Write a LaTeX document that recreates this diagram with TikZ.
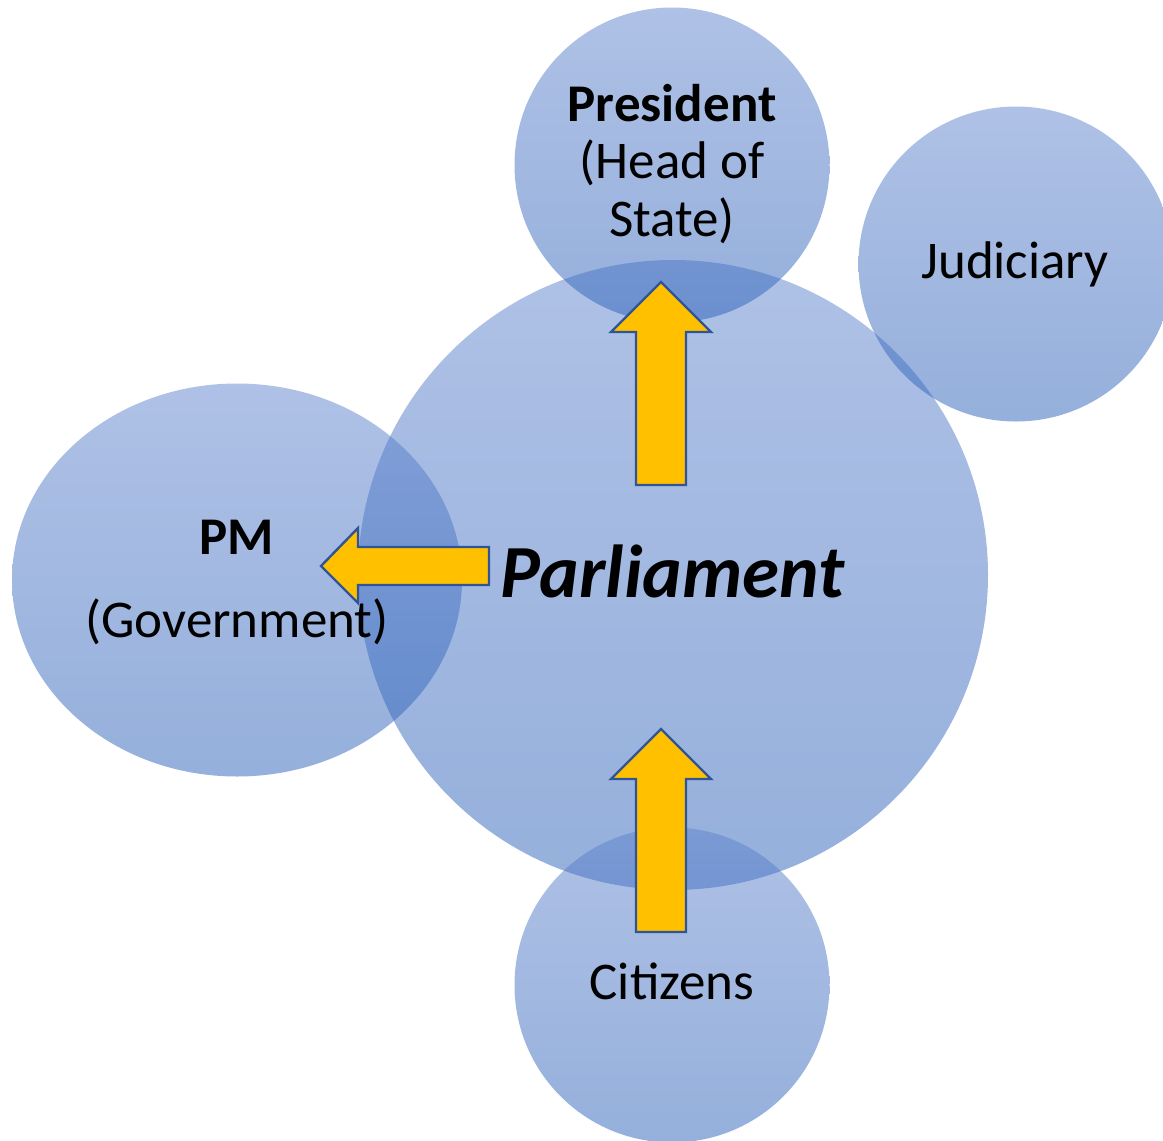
\documentclass[tikz,border=0pt]{standalone}
\usepackage{fontspec}
\setmainfont{Carlito}
\usetikzlibrary{shapes.geometric}
\definecolor{bubtop}{HTML}{5F83CD}
\definecolor{bubbot}{HTML}{2B61B9}
\definecolor{arrowfill}{HTML}{FFC000}
\definecolor{arrowline}{HTML}{2F5597}
\begin{document}
\begin{tikzpicture}[x=1pt, y=-1pt,
    bubble/.style={circle, top color=bubtop, bottom color=bubbot,
      fill opacity=0.5, draw=none, inner sep=0pt},
    blockarrow/.style={fill=arrowfill, draw=arrowline, line width=2.4pt},
    lbl/.style={font=\fontsize{53}{57.5}\selectfont, align=center, inner sep=0pt}]
  \useasboundingbox (0,0) rectangle (1163,1141);
  % the bubbles
  \node[bubble, minimum size=630pt] (parl) at (673,575) {};
  \node[bubble, minimum size=315pt] (pres) at (672,165) {};
  \node[bubble, minimum size=315pt] (jud) at (1016,264) {};
  \node[bubble, ellipse, minimum width=450pt, minimum height=393pt] (pm) at (237,580) {};
  \node[bubble, minimum size=315pt] (cit) at (672,985) {};
  % block arrows
  \draw[blockarrow] (636,485) -- (636,332) -- (611,332) -- (661,282)
    -- (711,332) -- (686,332) -- (686,485) -- cycle;
  \draw[blockarrow] (636,932) -- (636,779) -- (611,779) -- (661,729)
    -- (711,779) -- (686,779) -- (686,932) -- cycle;
  \draw[blockarrow] (489,547) -- (358,547) -- (358,528) -- (321,566)
    -- (358,603) -- (358,585) -- (489,585) -- cycle;
  % labels (base = last line)
  \node[lbl, anchor=base] (parllbl) at (673,597)
    {\fontsize{75}{80}\selectfont\textbf{\textit{Parliament}}};
  \node[lbl, anchor=base] (preslbl) at (672,236)
    {\textbf{President}\\(Head of\\State)};
  \node[lbl, anchor=base] (judlbl) at (1015,278) {Judiciary};
  \node[lbl, anchor=base] (pmlbl) at (237,637)
    {\textbf{PM}\\[25.5pt](Government)};
  \node[lbl, anchor=base] (citlbl) at (672,999) {Citizens};
\end{tikzpicture}
\end{document}
